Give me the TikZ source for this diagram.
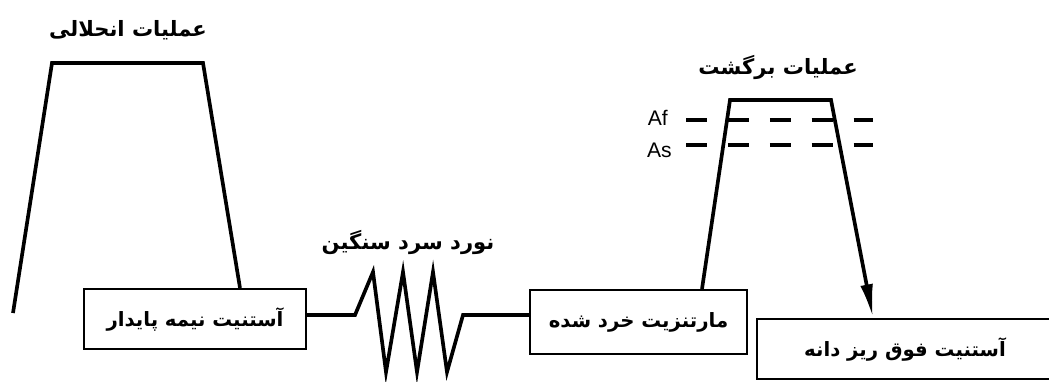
\documentclass[tikz,border=0pt]{standalone}
\usepackage{fontspec}
\TeXXeTstate=1
\newfontfamily\farsi[Script=Arabic]{DejaVu Sans}
\newfontfamily\latinlbl{Liberation Sans}
\usetikzlibrary{arrows.meta, positioning}

\begin{document}
\begin{tikzpicture}[x=0.025cm, y=-0.025cm,
  box/.style={draw, line width=1.5pt, inner sep=0pt, font=\farsi\bfseries\fontsize{14}{17}\selectfont},
  title/.style={font=\farsi\bfseries\fontsize{15}{18}\selectfont},
  curve/.style={line width=2.6pt, line join=miter},
  level/.style={line width=2.4pt, dash pattern=on 14.9pt off 14.9pt},
  temp/.style={font=\latinlbl\fontsize{15}{17}\selectfont, inner sep=0pt}]
  \useasboundingbox (0,0) rectangle (1049,381);
  \clip (0,0) rectangle (1049,381);
  % boxes
  \node[box, minimum width=5.55cm, minimum height=1.5cm] (metastable) at (195,319) {\beginR آستنیت نیمه پایدار\endR};
  \node[box, minimum width=5.43cm, minimum height=1.6cm] (crushed) at (638.5,322) {\beginR مارتنزیت خرد شده\endR};
  \node[box, minimum width=7.4cm, minimum height=1.5cm] (ultrafine) at (905,349) {\beginR آستنیت فوق ریز دانه\endR};
  % titles
  \node[title] (soln) at (128,30) {\beginR عملیات انحلالی\endR};
  \node[title] (rolling) at (408,242) {\beginR نورد سرد سنگین\endR};
  \node[title] (reversion) at (778,67) {\beginR عملیات برگشت\endR};
  % helper coordinates
  \coordinate (start) at (13,313);
  \coordinate (solnR) at (240,0);
  \coordinate (wire) at (0,315);
  \coordinate (revL) at (702,0);
  \coordinate (revR) at (873,0);
  % solution treatment
  \draw[curve] (start) -- (52,63) -- (203,63) -- (metastable.north -| solnR);
  % cold rolling
  \draw[curve] (metastable.east |- wire) -- (355,315) -- (373,272) -- (386,372)
    -- (403,272) -- (417,372) -- (433,272) -- (447,372) -- (463,315) -- (crushed.west |- wire);
  % reversion treatment
  \draw[curve, -{Latex[length=24pt, width=9pt]}] (crushed.north -| revL) -- (730,100)
    -- (831,100) -- (ultrafine.north -| revR);
  % Af / As levels
  \node[temp, anchor=east] (af) at (668,118) {Af};
  \node[temp, anchor=east] (as) at (672,150) {As};
  \draw[level] (686,120) -- (873,120);
  \draw[level] (686,145) -- (873,145);
\end{tikzpicture}
\end{document}
